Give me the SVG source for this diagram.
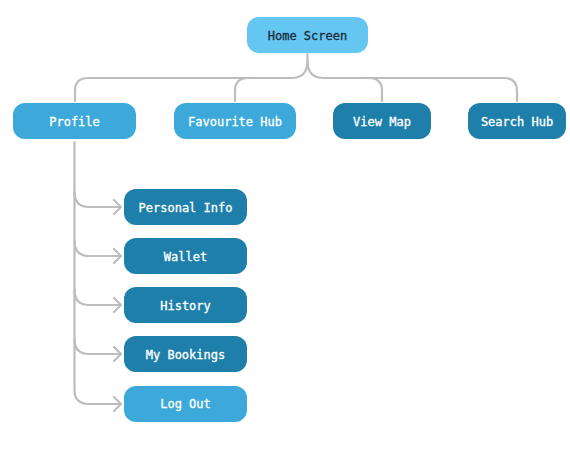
<svg xmlns="http://www.w3.org/2000/svg" width="570" height="449" viewBox="0 0 570 449">
<defs>
<marker id="arr" markerWidth="12" markerHeight="16" refX="9" refY="8" orient="auto" markerUnits="userSpaceOnUse">
<path d="M2,1 L9,8 L2,15" fill="none" stroke="#bdbdbd" stroke-width="2.2" stroke-linecap="round" stroke-linejoin="round"/>
</marker>
</defs>
<style>
.c path{fill:none;stroke:#bdbdbd;stroke-width:2.2;stroke-linecap:round}
.n rect{stroke:none}
.l{fill:#64c6f1}
.m{fill:#3ca9da}
.d{fill:#1e7fab}
text{font-family:"DejaVu Sans Mono","Liberation Mono",monospace;font-size:12px;text-anchor:middle;dominant-baseline:central;fill:#ffffff;stroke:#ffffff;stroke-width:0.3}
text.dk{fill:#1b2b3a;stroke:#1b2b3a}
</style>
<rect width="570" height="449" fill="#ffffff"/>
<g id="connectors" class="c">
<path d="M307.5,54 L307.5,61 Q307.5,78 291,78 L88,78 Q75,78 75,91 L75,101"/>
<path d="M307.5,61 Q307.5,78 324,78 L504,78 Q517,78 517,91 L517,101"/>
<path d="M248,78 Q235,78 235,91 L235,101"/>
<path d="M369,78 Q382,78 382,91 L382,101"/>
<path d="M74.5,142 L74.5,390 Q74.5,404 89,404 L121,404" marker-end="url(#arr)"/>
<path d="M74.5,192 Q74.5,207 89,207 L121,207" marker-end="url(#arr)"/>
<path d="M74.5,241 Q74.5,256 89,256 L121,256" marker-end="url(#arr)"/>
<path d="M74.5,290 Q74.5,305 89,305 L121,305" marker-end="url(#arr)"/>
<path d="M74.5,339 Q74.5,354 89,354 L121,354" marker-end="url(#arr)"/>
</g>
<g id="home" class="n"><rect class="l" x="247" y="17" width="121" height="36" rx="12"/><text class="dk" x="307.5" y="35.5">Home Screen</text></g>
<g id="profile" class="n"><rect class="m" x="13" y="103" width="123" height="36" rx="12"/><text x="74.5" y="121.5">Profile</text></g>
<g id="favourite" class="n"><rect class="m" x="174" y="103" width="122" height="36" rx="12"/><text x="235" y="121.5">Favourite Hub</text></g>
<g id="viewmap" class="n"><rect class="d" x="333" y="103" width="98" height="36" rx="12"/><text x="382" y="121.5">View Map</text></g>
<g id="search" class="n"><rect class="d" x="468" y="103" width="98" height="36" rx="12"/><text x="517" y="121.5">Search Hub</text></g>
<g id="personal" class="n"><rect class="d" x="124" y="189" width="123" height="36" rx="12"/><text x="185.5" y="207.5">Personal Info</text></g>
<g id="wallet" class="n"><rect class="d" x="124" y="238" width="123" height="36" rx="12"/><text x="185.5" y="256.5">Wallet</text></g>
<g id="history" class="n"><rect class="d" x="124" y="287" width="123" height="36" rx="12"/><text x="185.5" y="305.5">History</text></g>
<g id="bookings" class="n"><rect class="d" x="124" y="336" width="123" height="36" rx="12"/><text x="185.5" y="354.5">My Bookings</text></g>
<g id="logout" class="n"><rect class="m" x="124" y="386" width="123" height="36" rx="12"/><text x="185.5" y="404">Log Out</text></g>
</svg>
